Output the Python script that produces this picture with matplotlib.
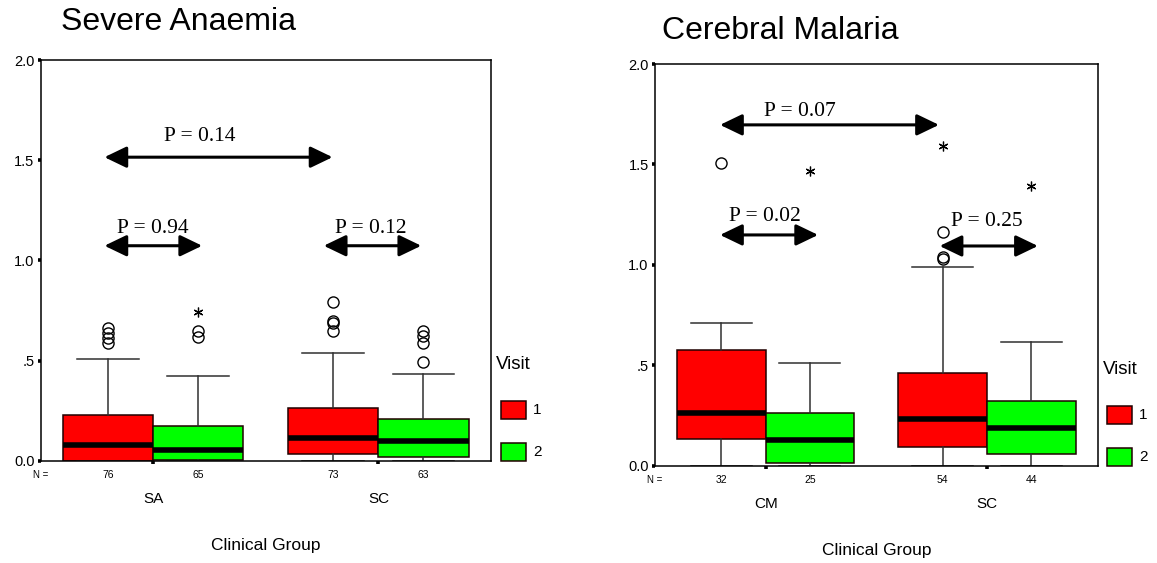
import numpy as np
import matplotlib
matplotlib.use('Agg')
import matplotlib.pyplot as plt
from matplotlib.patches import Rectangle

# ---- data ----
visits = ['1', '2']
colors = ['#ff0000', '#00ff00']

sa_groups = ['SA', 'SC']
sa_n = [76, 65, 73, 63]
sa_q1 = [0.0, 0.004, 0.033, 0.02]
sa_med = [0.078, 0.052, 0.115, 0.10]
sa_q3 = [0.228, 0.172, 0.265, 0.208]
sa_whislo = [0.0, 0.0, 0.0, 0.0]
sa_whishi = [0.508, 0.425, 0.54, 0.432]
sa_outliers = [[0.587, 0.612, 0.637, 0.662], [0.615, 0.645],
               [0.645, 0.687, 0.695, 0.792], [0.492, 0.587, 0.62, 0.645]]
sa_extremes = [[], [0.74], [], []]
sa_pvals = ['P = 0.14', 'P = 0.94', 'P = 0.12']

cm_groups = ['CM', 'SC']
cm_n = [32, 25, 54, 44]
cm_q1 = [0.132, 0.012, 0.095, 0.06]
cm_med = [0.262, 0.128, 0.233, 0.19]
cm_q3 = [0.578, 0.262, 0.462, 0.32]
cm_whislo = [0.0, 0.0, 0.0, 0.0]
cm_whishi = [0.712, 0.51, 0.988, 0.615]
cm_outliers = [[1.506], [], [1.028, 1.041, 1.165], []]
cm_extremes = [[], [1.469], [1.594], [1.393]]
cm_pvals = ['P = 0.07', 'P = 0.02', 'P = 0.25']

# arrow (x0, x1, y) and label (x, y) positions
sa_arrows = [(-0.217, 0.796, 1.515), (-0.217, 0.217, 1.073), (0.757, 1.19, 1.073)]
sa_ptext = [(0.207, 1.62), (0.0, 1.16), (0.965, 1.16)]
cm_arrows = [(-0.206, 0.783, 1.697), (-0.206, 0.237, 1.149), (0.786, 1.23, 1.094)]
cm_ptext = [(0.155, 1.766), (-0.003, 1.24), (0.997, 1.215)]

plt.rcParams['font.family'] = ['Liberation Sans', 'DejaVu Sans']


def panel(ax, groups, n, q1, med, q3, wlo, whi, outl, extr, pvals, arrows, ptext):
    pos = []
    for g in range(len(groups)):
        pos += [g - 0.2, g + 0.2]
    stats = []
    for i in range(len(pos)):
        stats.append(dict(med=med[i], q1=q1[i], q3=q3[i], whislo=wlo[i],
                          whishi=whi[i], fliers=outl[i]))
    bp = ax.bxp(stats, positions=pos, widths=0.4, capwidths=0.275,
                patch_artist=True, manage_ticks=False,
                boxprops=dict(edgecolor='#200000', linewidth=1.1),
                whiskerprops=dict(color='#303030', linewidth=1.1),
                capprops=dict(color='#303030', linewidth=1.1),
                medianprops=dict(color='black', linewidth=4.0, solid_capstyle='butt'),
                flierprops=dict(marker='o', markersize=8, markerfacecolor='none',
                                markeredgecolor='black', markeredgewidth=1.0))
    for i, b in enumerate(bp['boxes']):
        b.set_facecolor(colors[i % 2])
    for i, e in enumerate(extr):
        if e:
            ax.plot([pos[i]] * len(e), e, ls='none', marker=(6, 2, 0),
                    markersize=7, markeredgewidth=0.9, color='black')

    for (x0, x1, y), (tx, ty), p in zip(arrows, ptext, pvals):
        ax.annotate('', xy=(x1, y), xytext=(x0, y),
                    arrowprops=dict(arrowstyle='<|-|>,head_length=1.35,head_width=0.65',
                                    mutation_scale=10, lw=2.2, color='black',
                                    shrinkA=0, shrinkB=0))
        ax.text(tx, ty, p, ha='center', va='center', fontsize=15.5,
                family='Liberation Serif')

    ax.set_xlim(-0.5, 1.5)
    ax.set_ylim(0, 2.0)
    ax.set_yticks([0, 0.5, 1.0, 1.5, 2.0])
    ax.set_yticklabels(['0.0', '.5', '1.0', '1.5', '2.0'], fontsize=10.5)
    ax.set_xticks([0, 1])
    ax.set_xticklabels(['', ''])
    ax.tick_params(direction='out', length=2.5, width=2.6, pad=2)
    for s in ax.spines.values():
        s.set_linewidth(1.1)

    tr = ax.get_xaxis_transform()
    ax.text(-0.5, -0.036, 'N =', transform=tr, ha='center', va='center', fontsize=7)
    for i, x in enumerate(pos):
        ax.text(x, -0.036, str(n[i]), transform=tr, ha='center', va='center', fontsize=7.5)
    for g, name in enumerate(groups):
        ax.text(g, -0.096, name, transform=tr, ha='center', va='center', fontsize=11)
    ax.text(0.5, -0.212, 'Clinical Group', transform=ax.transAxes,
            ha='center', va='center', fontsize=12.5)

    # legend drawn beside the axes
    ax.text(1.011, 0.239, 'Visit', transform=ax.transAxes, ha='left', va='center',
            fontsize=13.5)
    for k, (lab, c) in enumerate(zip(visits, colors)):
        y0 = 0.104 - k * 0.105
        ax.add_patch(Rectangle((1.022, y0), 0.055, 0.045, transform=ax.transAxes,
                               facecolor=c, edgecolor='#200000', lw=1.1, clip_on=False))
        ax.text(1.094, y0 + 0.0225, lab, transform=ax.transAxes, ha='left',
                va='center', fontsize=11)


fig = plt.figure(figsize=(11.57, 5.63), dpi=100)
ax1 = fig.add_axes([0.0352, 0.1817, 0.3892, 0.7117])
ax2 = fig.add_axes([0.5661, 0.1728, 0.3826, 0.7135])

panel(ax1, sa_groups, sa_n, sa_q1, sa_med, sa_q3, sa_whislo, sa_whishi,
      sa_outliers, sa_extremes, sa_pvals, sa_arrows, sa_ptext)
panel(ax2, cm_groups, cm_n, cm_q1, cm_med, cm_q3, cm_whislo, cm_whishi,
      cm_outliers, cm_extremes, cm_pvals, cm_arrows, cm_ptext)

fig.text(0.0525, 0.946, 'Severe Anaemia', ha='left', va='baseline', fontsize=23)
fig.text(0.5725, 0.930, 'Cerebral Malaria', ha='left', va='baseline', fontsize=23)

plt.savefig('out.png', dpi=100)
